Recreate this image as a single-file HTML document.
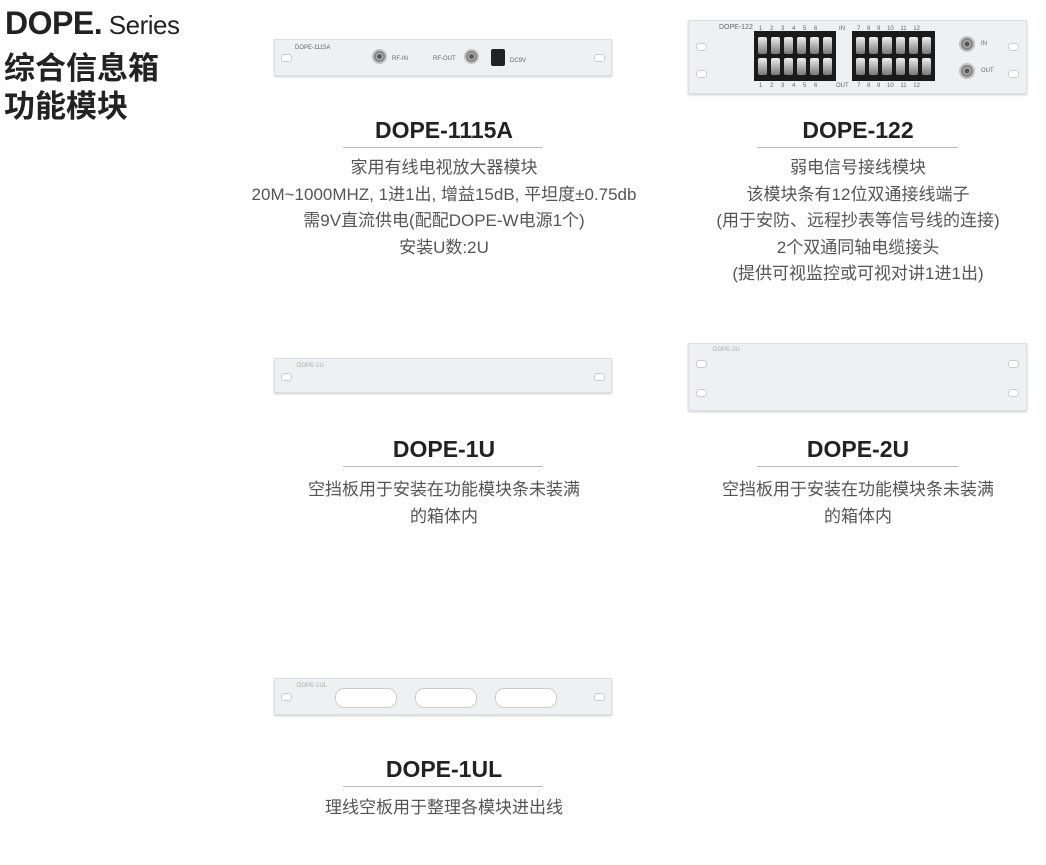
<!DOCTYPE html>
<html><head><meta charset="utf-8"><style>
body{margin:0;width:1046px;height:865px;background:#fff;position:relative;overflow:hidden;font-family:"Liberation Sans","Noto Sans CJK SC",sans-serif;color:#333}
.a{position:absolute}
.panel{position:absolute;background:#eef0f2;border:1px solid #dcdfe3;box-sizing:border-box;box-shadow:0 1px 2px #ccc}
.hole{position:absolute;width:9px;height:6px;border-radius:3px;background:#fff;border:1px solid #ccc}
.t{position:absolute;text-align:center;font-weight:bold;font-size:23px;color:#222}
.ul{position:absolute;height:1px;background:#bbb}
.d{position:absolute;text-align:center;font-size:17px;line-height:26.5px;color:#555;font-family:"Liberation Sans","Noto Sans CJK SC",sans-serif}
.sm{position:absolute;font-size:6px;color:#666}
.bnc{position:absolute;border-radius:50%;background:radial-gradient(circle,#555 0 20%,#bbb 25%,#777 45%,#ccc 60%,#888 100%)}
.blk{position:absolute;background:#1a1a1a;display:grid;grid-template-columns:repeat(6,1fr);grid-template-rows:1fr 1fr;gap:4px 2px;padding:6px 3px;box-sizing:border-box}
.blk i{background:linear-gradient(#eee,#777);border-radius:2px;margin:0 1px}
.sl{position:absolute;width:60px;height:18px;border-radius:9px;background:#fff;border:1px solid #ccc}
</style></head><body>
<div class="a" style="left:5px;top:5px;font-size:32px;font-weight:bold;color:#222;letter-spacing:-0.5px">DOPE.<span style="font-weight:normal;font-size:26px"> Series</span></div>
<div class="a" style="left:4px;top:47px;font-size:31px;font-weight:bold;line-height:38px;color:#222;font-family:'Noto Sans CJK SC',sans-serif">综合信息箱<br>功能模块</div>

<div class="panel" style="left:274px;top:39px;width:338px;height:37px">
<div class="hole" style="left:6px;top:14px"></div><div class="hole" style="right:6px;top:14px"></div>
<div class="sm" style="left:20px;top:5px">DOPE-1115A</div>
<div class="bnc" style="left:97px;top:9px;width:15px;height:15px"></div>
<div class="sm" style="left:117px;top:16px">RF-IN</div>
<div class="sm" style="left:158px;top:16px">RF-OUT</div>
<div class="bnc" style="left:189px;top:9px;width:15px;height:15px"></div>
<div class="a" style="left:216px;top:9px;width:14px;height:17px;background:#222;border-radius:2px"></div>
<div class="sm" style="left:235px;top:18px">DC9V</div>
</div>
<div class="t" style="left:294px;width:300px;top:117px">DOPE-1115A</div>
<div class="ul" style="left:343px;width:200px;top:147px"></div>
<div class="d" style="left:144px;width:600px;top:155px">家用有线电视放大器模块<br>20M~1000MHZ, 1进1出, 增益15dB, 平坦度±0.75db<br>需9V直流供电(配配DOPE-W电源1个)<br>安装U数:2U</div>

<div class="panel" style="left:688px;top:20px;width:339px;height:74px">
<div class="hole" style="left:7px;top:22px"></div><div class="hole" style="left:7px;top:49px"></div>
<div class="hole" style="right:7px;top:22px"></div><div class="hole" style="right:7px;top:49px"></div>
<div class="sm" style="left:30px;top:3px;font-size:7px">DOPE-122</div>
<div class="sm" style="left:70px;top:5px;word-spacing:6px">1 2 3 4 5 6</div>
<div class="sm" style="left:150px;top:5px">IN</div>
<div class="sm" style="left:168px;top:5px;word-spacing:5px">7 8 9 10 11 12</div>
<div class="sm" style="left:70px;top:62px;word-spacing:6px">1 2 3 4 5 6</div>
<div class="sm" style="left:147px;top:62px">OUT</div>
<div class="sm" style="left:168px;top:62px;word-spacing:5px">7 8 9 10 11 12</div>
<div class="blk" style="left:65px;top:10px;width:82px;height:50px"><i></i><i></i><i></i><i></i><i></i><i></i><i></i><i></i><i></i><i></i><i></i><i></i></div>
<div class="blk" style="left:163px;top:10px;width:83px;height:50px"><i></i><i></i><i></i><i></i><i></i><i></i><i></i><i></i><i></i><i></i><i></i><i></i></div>
<div class="bnc" style="left:270px;top:15px;width:16px;height:16px"></div>
<div class="bnc" style="left:270px;top:42px;width:16px;height:16px"></div>
<div class="sm" style="left:292px;top:20px">IN</div><div class="sm" style="left:292px;top:47px">OUT</div>
</div>
<div class="t" style="left:708px;width:300px;top:117px">DOPE-122</div>
<div class="ul" style="left:757px;width:201px;top:147px"></div>
<div class="d" style="left:558px;width:600px;top:155px">弱电信号接线模块<br>该模块条有12位双通接线端子<br>(用于安防、远程抄表等信号线的连接)<br>2个双通同轴电缆接头<br>(提供可视监控或可视对讲1进1出)</div>

<div class="panel" style="left:274px;top:358px;width:338px;height:35px">
<div class="hole" style="left:6px;top:14px"></div><div class="hole" style="right:6px;top:14px"></div>
<div class="sm" style="left:22px;top:4px;color:#aaa">DOPE-1U</div></div>
<div class="t" style="left:294px;width:300px;top:436px">DOPE-1U</div>
<div class="ul" style="left:343px;width:200px;top:466px"></div>
<div class="d" style="left:144px;width:600px;top:477px">空挡板用于安装在功能模块条未装满<br>的箱体内</div>

<div class="panel" style="left:688px;top:343px;width:339px;height:68px">
<div class="hole" style="left:7px;top:16px"></div><div class="hole" style="left:7px;top:45px"></div>
<div class="hole" style="right:7px;top:16px"></div><div class="hole" style="right:7px;top:45px"></div>
<div class="sm" style="left:24px;top:3px;color:#aaa">DOPE-2U</div></div>
<div class="t" style="left:708px;width:300px;top:436px">DOPE-2U</div>
<div class="ul" style="left:757px;width:201px;top:466px"></div>
<div class="d" style="left:558px;width:600px;top:477px">空挡板用于安装在功能模块条未装满<br>的箱体内</div>

<div class="panel" style="left:274px;top:678px;width:338px;height:37px">
<div class="hole" style="left:6px;top:14px"></div><div class="hole" style="right:6px;top:14px"></div>
<div class="sm" style="left:22px;top:4px;color:#aaa">DOPE-1UL</div>
<div class="sl" style="left:60px;top:9px"></div><div class="sl" style="left:140px;top:9px"></div><div class="sl" style="left:220px;top:9px"></div></div>
<div class="t" style="left:294px;width:300px;top:756px">DOPE-1UL</div>
<div class="ul" style="left:343px;width:200px;top:786px"></div>
<div class="d" style="left:144px;width:600px;top:795px">理线空板用于整理各模块进出线</div>
</body></html>
